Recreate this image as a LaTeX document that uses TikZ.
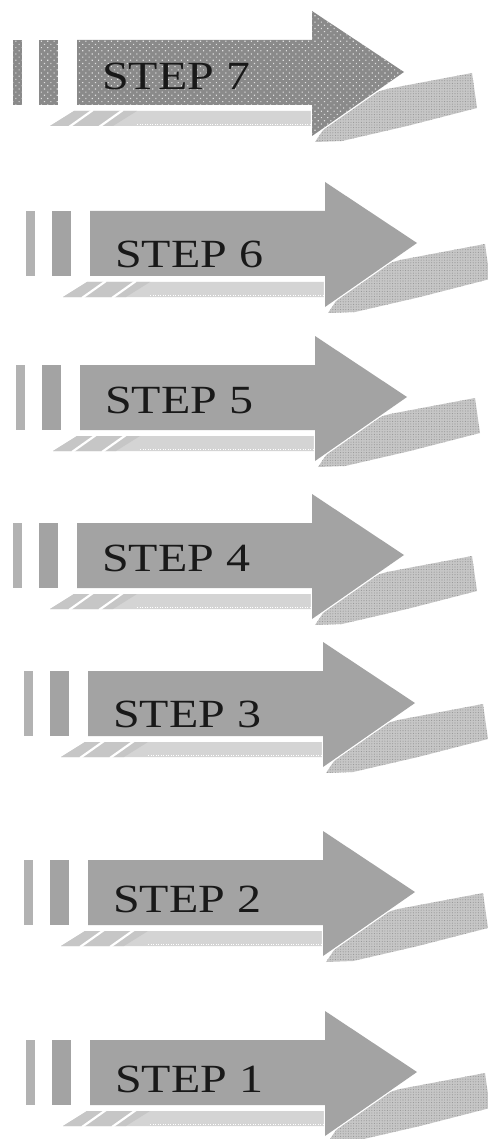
\documentclass[tikz,border=0pt]{standalone}
\usepackage{fontspec}
\setmainfont{Liberation Serif}
\usetikzlibrary{patterns.meta}
\definecolor{bodyg}{RGB}{163,163,163}
\definecolor{barlight}{RGB}{178,178,178}
\definecolor{darkg}{RGB}{138,138,138}
\definecolor{stripg}{RGB}{212,212,212}
\definecolor{shadowg}{RGB}{198,198,198}
\definecolor{dotg}{RGB}{150,150,150}
\tikzset{
  plainfill/.style={fill=bodyg},
  dotfill/.style={fill=darkg, postaction={pattern={Dots[distance=4.5pt,radius=0.8pt,angle=45]}, pattern color=white!75!gray}},
  lightbar/.style={fill=barlight},
  shadowshape/.style={fill=shadowg, postaction={pattern={Dots[distance=2.6pt,radius=0.55pt]}, pattern color=dotg}},
  stripshape/.style={fill=stripg},
  gapline/.style={draw=white, line width=2.2pt},
  outline/.style={draw=white, line width=2.5pt, line join=miter},
  steptext/.style={anchor=base west, inner sep=0pt, text=black!90, font=\fontsize{40}{42}\selectfont}
}
\begin{document}
\begin{tikzpicture}[x=1pt,y=-1pt]
\useasboundingbox[fill=white] (0,0) rectangle (487,1139);
\foreach \n/\xo/\yc/\bo in {7/77/72/18, 6/90/243/25, 5/80/397/16, 4/77/555/16, 3/88/703/24, 2/88/892/20, 1/90/1072/20}{
  \pgfmathsetmacro{\xb}{\xo+235}
  \pgfmathsetmacro{\xt}{\xo+327}
  \ifnum\n=7 \def\afill{dotfill}\def\bfill{dotfill}\else\def\afill{plainfill}\def\bfill{lightbar}\fi
  % right shadow
  \path[shadowshape] (\xb+3,\yc+70) -- (\xb+30,\yc+30) -- (\xb+75,\yc+17) -- (\xb+160,\yc+1)
     -- (\xb+165,\yc+36) -- (\xb+95,\yc+54) -- (\xb+30,\yc+69) -- cycle;
  % bottom strip
  \path[stripshape] (\xo-27,\yc+54) -- (\xo-3,\yc+39) -- (\xb,\yc+39) -- (\xb,\yc+54) -- cycle;
  \path[fill=shadowg] (\xo-27,\yc+54) -- (\xo-3,\yc+39) -- (\xo+60,\yc+39) -- (\xo+36,\yc+54) -- cycle;
  \draw[gapline] (\xo-8,\yc+55) -- (\xo+16,\yc+38);
  \draw[gapline] (\xo+22,\yc+55) -- (\xo+46,\yc+38);
  \draw[white, line width=0.8pt, dash pattern=on 1pt off 1.5pt] (\xo+60,\yc+52) -- (\xb,\yc+52);
  % bars
  \path[\bfill] (\xo-64,\yc-32) rectangle (\xo-55,\yc+33);
  \path[\afill] (\xo-38,\yc-32) rectangle (\xo-19,\yc+33);
  % arrow
  \path[outline] (\xo,\yc-32) -- (\xb,\yc-32) -- (\xb,\yc-61) -- (\xt,\yc) -- (\xb,\yc+64) -- (\xb,\yc+33) -- (\xo,\yc+33) -- cycle;
  \path[\afill] (\xo,\yc-32) -- (\xb,\yc-32) -- (\xb,\yc-61) -- (\xt,\yc) -- (\xb,\yc+64) -- (\xb,\yc+33) -- (\xo,\yc+33) -- cycle;
  \node[steptext] (t\n) at (\xo+25,\yc+\bo) {\scalebox{1.2}[1]{STEP \n}};
}
\end{tikzpicture}
\end{document}
